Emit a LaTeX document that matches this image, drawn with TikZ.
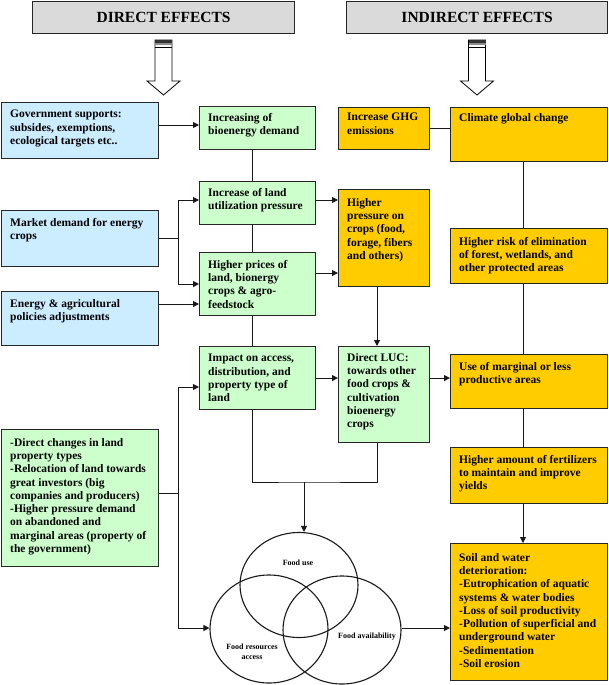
\documentclass[tikz,border=0pt]{standalone}
\usepackage{fontspec}
\setmainfont{Liberation Serif}
\usetikzlibrary{arrows.meta,calc,shapes.geometric}
\definecolor{cblue}{RGB}{204,236,255}
\definecolor{cgreen}{RGB}{204,255,204}
\definecolor{corange}{RGB}{255,204,0}
\definecolor{cgray}{RGB}{218,218,218}
\newcommand\dbox[8]{%
  \node[bx,fill=#2,minimum width=#5pt,minimum height=#6pt] (#1) at (#3,#4) {};
  \node[txt] (#1-t) at ([shift={(9pt,-#7pt)}]#1.north west) {#8};}
\newcommand\hollowarrow[1]{%
  \draw[line width=0.8pt,fill=white] (#1-8.5,40) -- (#1+8.5,40) -- (#1+8.5,81) -- (#1+16.5,81)
     -- (#1,95) -- (#1-16.5,81) -- (#1-8.5,81) -- cycle;
  \fill[black!80] (#1-8.5,40) rectangle (#1+8.5,43.5);
  \fill[black!45] (#1-8.5,43.5) rectangle (#1+8.5,45.5);
  \draw[line width=0.7pt] (#1-8.5,47.5) -- (#1+8.5,47.5);}
\begin{document}
\begin{tikzpicture}[x=1pt,y=-1pt,
  bx/.style={draw=black!85,line width=1.1pt,rectangle,inner sep=0pt,anchor=north west},
  txt/.style={anchor=north west,align=left,inner sep=0pt,font=\fontsize{11.5}{13.3}\selectfont\bfseries},
  hdrtxt/.style={inner sep=0pt,font=\fontsize{15.5}{18}\selectfont\bfseries},
  conn/.style={line width=1pt,draw=black!90},
  arr/.style={conn,-{Triangle[length=6pt,width=6pt]}},
  venn/.style={draw=black!90,ellipse,line width=1.1pt,inner sep=0pt},
  venntxt/.style={inner sep=0pt,align=center,font=\fontsize{8}{9.5}\selectfont\bfseries}
]
\useasboundingbox (0,0) rectangle (609,685);

% headers
\node[bx,fill=cgray,minimum width=262pt,minimum height=32pt] (hdD) at (32,1) {};
\node[hdrtxt] (hdD-t) at (hdD.center) {DIRECT EFFECTS};
\node[bx,fill=cgray,minimum width=261pt,minimum height=32pt] (hdI) at (346,1) {};
\node[hdrtxt] (hdI-t) at (hdI.center) {INDIRECT EFFECTS};
\hollowarrow{163.5}
\hollowarrow{477}

% left column
\dbox{gov}{cblue}{1}{102}{157}{56}{8}{Government supports:\\subsides, exemptions,\\ecological targets etc..}
\dbox{mkt}{cblue}{1}{210}{157}{56}{8}{Market demand for energy\\crops}
\dbox{pol}{cblue}{1}{291}{157}{54}{8}{Energy \& agricultural\\policies adjustments}
\dbox{dir}{cgreen}{1}{429}{157}{137}{9}{-Direct changes in land\\property types\\-Relocation of land towards\\great investors (big\\companies and producers)\\-Higher pressure demand\\on abandoned and\\marginal areas (property of\\the government)}

% green middle column
\dbox{inc}{cgreen}{199}{106}{116}{43}{7}{Increasing of\\bioenergy demand}
\dbox{land}{cgreen}{199}{181}{116}{43}{7}{Increase of land\\utilization pressure}
\dbox{price}{cgreen}{199}{252}{116}{63}{8}{Higher prices of\\land, bionergy\\crops \& agro-\\feedstock}
\dbox{imp}{cgreen}{199}{346}{116}{63}{8}{Impact on access,\\distribution, and\\property type of\\land}

% third column
\dbox{ghg}{corange}{338}{107}{91}{42}{6}{Increase GHG\\emissions}
\dbox{press}{corange}{338}{189}{91}{97}{9}{Higher\\pressure on\\crops (food,\\forage, fibers\\and others)}
\dbox{luc}{cgreen}{338}{346}{91}{96}{7}{Direct LUC:\\towards other\\food crops \&\\cultivation\\bioenergy\\crops}

% right column
\dbox{clim}{corange}{450}{107}{157}{54}{6}{Climate global change}
\dbox{risk}{corange}{450}{228}{157}{55}{9}{Higher risk of elimination\\of forest, wetlands, and\\other protected areas}
\dbox{marg}{corange}{450}{354}{157}{54}{8}{Use of marginal or less\\productive areas}
\dbox{fert}{corange}{450}{447}{157}{56}{8}{Higher amount of fertilizers\\to maintain and improve\\yields}
\dbox{soil}{corange}{450}{543}{157}{137}{10}{Soil and water\\deterioration:\\-Eutrophication of aquatic\\systems \& water bodies\\-Loss of soil productivity\\-Pollution of superficial and\\underground water\\-Sedimentation\\-Soil erosion}

% venn diagram
\node[venn,minimum width=118pt,minimum height=105pt] (fuse) at (299,585) {};
\node[venn,minimum width=118pt,minimum height=108pt] (facc) at (269,629) {};
\node[venn,minimum width=118pt,minimum height=108pt] (favl) at (342,630) {};
\node[venntxt] (fuse-t) at (298,563) {Food use};
\node[venntxt] (facc-t) at (252,652) {Food resources\\access};
\node[venntxt] (favl-t) at (367,637) {Food availability};

% helper coordinates
\coordinate (spine) at (252,0);
\coordinate (brA) at (178,0);
\coordinate (colL) at (377,0);
\coordinate (colR) at (523,0);
\coordinate (jn) at (304,482);
\coordinate (yPol) at (0,304);
\coordinate (yPr) at (0,273);
\coordinate (yLand) at (0,200);
\coordinate (yGov) at (0,125);
\coordinate (yImp) at (0,387);
\coordinate (yDir) at (0,493);
\coordinate (yVenn) at (0,628);

% connectors
\draw[arr] (gov.east |- yGov) -- (inc.west |- yGov);
\draw[conn] (inc.south -| spine) -- (land.north -| spine);
\draw[conn] (land.south -| spine) -- (price.north -| spine);
\draw[conn] (price.south -| spine) -- (imp.north -| spine);
\draw[conn] (imp.south -| spine) |- (jn) -| (luc.south -| colL);
\draw[arr] (jn) -- (jn |- fuse.north);

\draw[conn] (mkt.east) -- (mkt.east -| brA);
\draw[arr] (mkt.east -| brA) |- (land.west |- yLand);
\draw[arr] (mkt.east -| brA) |- (price.west);
\draw[arr] (pol.east |- yPol) -- (price.west |- yPol);

\draw[arr] (land.east |- yLand) -- (press.west |- yLand);
\draw[arr] (price.east |- yPr) -- (press.west |- yPr);
\draw[conn] (ghg.east) -- (ghg.east -| clim.west);
\draw[arr] (press.south -| colL) -- (luc.north -| colL);
\draw[arr] (imp.east) -- (imp.east -| luc.west);
\draw[arr] (luc.east |- imp.east) -- (marg.west |- imp.east);

\draw[conn] (clim.south -| colR) -- (risk.north -| colR);
\draw[conn] (risk.south -| colR) -- (marg.north -| colR);
\draw[conn] (marg.south -| colR) -- (fert.north -| colR);
\draw[arr] (fert.south -| colR) -- (soil.north -| colR);

\draw[conn] (dir.east |- yDir) -- (brA |- yDir);
\draw[arr] (brA |- yDir) |- (imp.west |- yImp);
\draw[arr] (brA |- yDir) |- (facc.west |- yVenn);
\draw[arr] (favl.east |- yVenn) -- (soil.west |- yVenn);
\end{tikzpicture}
\end{document}
